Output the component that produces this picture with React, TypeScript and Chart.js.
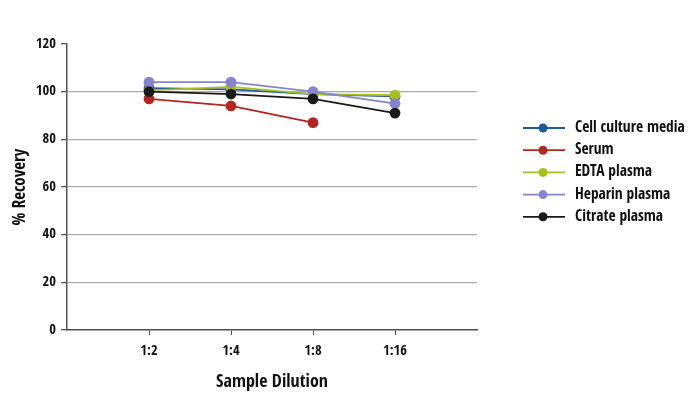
import React, { useEffect, useRef } from "react";
import { Chart, registerables } from "chart.js";
Chart.register(...registerables);

const categories = ["1:2", "1:4", "1:8", "1:16"];
const seriesNames = ["Cell culture media", "Serum", "EDTA plasma", "Heparin plasma", "Citrate plasma"];
const cellCulture = [101.5, 101, 99, 98];
const serum = [97, 94, 87, null];
const edta = [100.5, 102, 99, 98.5];
const heparin = [104, 104, 100, 95];
const citrate = [100, 99, 97, 91];
const colors = ["#1f5a9e", "#b5261e", "#a8c01c", "#8585cf", "#1a1a1a"];
const yTicks = [0, 20, 40, 60, 80, 100, 120];

const FONT = "'Open Sans Condensed', 'Roboto Condensed', sans-serif";

export default function App() {
  const ref = useRef<HTMLCanvasElement>(null);
  useEffect(() => {
    const all: (number | null)[][] = [cellCulture, serum, edta, heparin, citrate];
    const datasets = all.map((vals, i) => ({
      label: seriesNames[i],
      order: all.length - 1 - i,
      data: vals
        .map((v, j) => ({ x: j + 1, y: v }))
        .filter((p) => p.y !== null),
      borderColor: colors[i],
      backgroundColor: colors[i],
      pointBackgroundColor: colors[i],
      pointBorderColor: colors[i],
      borderWidth: 1.8,
      pointRadius: 4.5,
    }));
    const legendPlugin = {
      id: "customLegend",
      afterDraw(chart: any) {
        const ctx = chart.ctx;
        ctx.save();
        seriesNames.forEach((name, i) => {
          const y = 128 + i * 22.2;
          ctx.strokeStyle = colors[i];
          ctx.lineWidth = 1.8;
          ctx.beginPath();
          ctx.moveTo(523, y);
          ctx.lineTo(565, y);
          ctx.stroke();
          ctx.fillStyle = colors[i];
          ctx.beginPath();
          ctx.arc(543, y, 4.5, 0, Math.PI * 2);
          ctx.fill();
          ctx.fillStyle = "#111";
          ctx.font = `bold 15.5px ${FONT}`;
          ctx.textBaseline = "middle";
          ctx.textAlign = "left";
          ctx.fillText(name, 575, y);
        });
        ctx.restore();
      },
    };
    const chart = new Chart(ref.current!, {
      type: "line",
      data: { datasets },
      plugins: [legendPlugin],
      options: {
        animation: false,
        responsive: false,
        maintainAspectRatio: false,
        layout: { padding: { top: 44, right: 217, left: 6, bottom: 0 } },
        plugins: { legend: { display: false }, tooltip: { enabled: false } },
        scales: {
          x: {
            type: "linear",
            min: 0,
            max: 5,
            afterBuildTicks: (scale: any) => {
              scale.ticks = categories.map((_, i) => ({ value: i + 1 }));
            },
            afterFit: (scale: any) => {
              scale.height = 67;
            },
            ticks: {
              callback: (v: any) => categories[Number(v) - 1] ?? "",
              color: "#111",
              font: { family: FONT, size: 14.5, weight: "bold" },
              padding: 8,
              maxRotation: 0,
            },
            grid: { drawOnChartArea: false, tickLength: 5, tickColor: "#555", color: "#555" },
            border: { color: "#555", width: 1.5 },
            title: {
              display: true,
              text: "Sample Dilution",
              color: "#111",
              font: { family: FONT, size: 18, weight: "bold" },
              padding: { top: 8 },
            },
          },
          y: {
            min: 0,
            max: 120,
            afterBuildTicks: (scale: any) => {
              scale.ticks = yTicks.map((v) => ({ value: v }));
            },
            afterFit: (scale: any) => {
              scale.width = 61;
            },
            ticks: {
              color: "#111",
              font: { family: FONT, size: 14.5, weight: "bold" },
              padding: 5,
            },
            grid: {
              tickLength: 6,
              tickColor: "#555",
              lineWidth: 1.3,
              color: (c: any) => (c.tick && c.tick.value === 120 ? "rgba(0,0,0,0)" : "#aaaaaa"),
            },
            border: { color: "#555", width: 1.5 },
            title: {
              display: true,
              text: "% Recovery",
              color: "#111",
              font: { family: FONT, size: 17, weight: "bold" },
              padding: { bottom: 0 },
            },
          },
        },
      },
    } as any);
    return () => chart.destroy();
  }, []);
  return (
    <div style={{ position: "fixed", left: 0, top: 0, width: 694, height: 397, background: "#fff" }}>
      <canvas ref={ref} width={694} height={397} style={{ width: 694, height: 397 }} />
    </div>
  );
}
